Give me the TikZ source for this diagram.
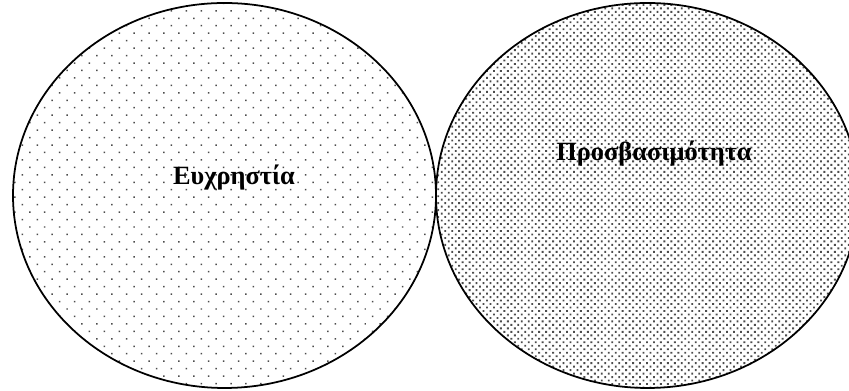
\documentclass[tikz,border=0pt]{standalone}
\usepackage{fontspec}
\setmainfont{Liberation Serif}
\usetikzlibrary{patterns.meta}

\begin{document}
\begin{tikzpicture}[x=0.02cm,y=0.02cm]
\useasboundingbox (0,0) rectangle (849,391);
\clip (0,0) rectangle (849,391);
\draw[line width=1pt,pattern={Dots[distance=6pt,radius=0.6pt,angle=45]},pattern color=black!70] (224.5,195.5) ellipse [x radius=211.5,y radius=192.5];
\node[font=\fontsize{15}{17}\selectfont\bfseries] (usab) at (234,213) {Ευχρηστία};
\draw[line width=1pt,pattern={Dots[distance=2.8pt,radius=0.75pt,angle=45]},pattern color=black!70] (647.5,195.5) ellipse [x radius=211.5,y radius=192.5];
\node[font=\fontsize{15}{17}\selectfont\bfseries] (acc) at (654,237) {Προσβασιμότητα};
\end{tikzpicture}
\end{document}
